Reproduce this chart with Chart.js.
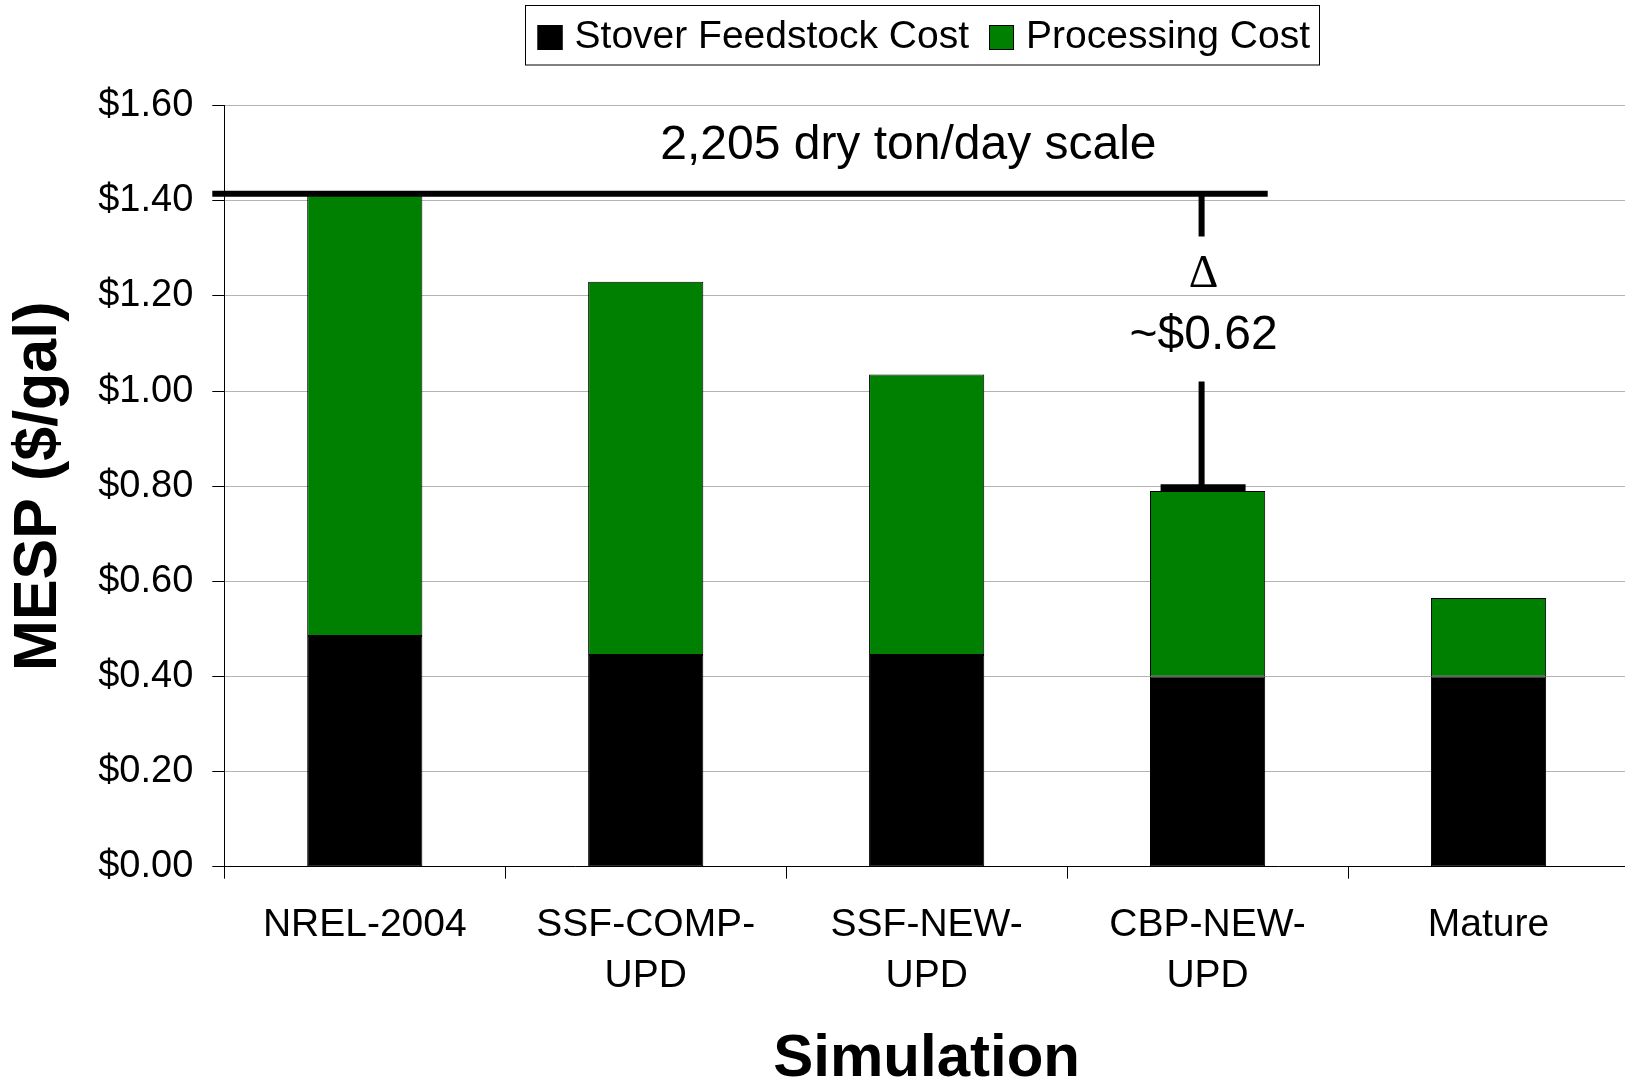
<!DOCTYPE html>
<html><head><meta charset="utf-8">
<script src="https://cdn.jsdelivr.net/npm/chart.js@4.4.1/dist/chart.umd.min.js"></script>
<style>html,body{margin:0;padding:0;overflow:hidden;background:#fff}canvas{display:block}</style>
</head><body>
<canvas id="c" width="1640" height="1089"></canvas>
<script>
// ---- data ----
const categories = ["NREL-2004", ["SSF-COMP-", "UPD"], ["SSF-NEW-", "UPD"], ["CBP-NEW-", "UPD"], "Mature"];
const feedstockCost = [0.485, 0.445, 0.445, 0.40, 0.40];
const processingCost = [0.93, 0.785, 0.59, 0.39, 0.165];
const seriesNames = ["Stover Feedstock Cost", "Processing Cost"];
const seriesColors = ["#000000", "#008000"];
const yMin = 0, yMax = 1.6, yStep = 0.2;
const yTitle = "MESP ($/gal)";
const xTitle = "Simulation";
// annotation values
const scaleLabel = "2,205 dry ton/day scale";
const scaleLevel = 1.415;
const deltaSymbol = "\u0394";
const deltaLabel = "~$0.62";
const deltaTo = 0.797;
const deltaCategory = 3;

const SANS = '"Liberation Sans", Arial, sans-serif';
Chart.defaults.font.family = SANS;
Chart.defaults.color = '#000';

const bgPlugin = {
  id: 'bg',
  beforeDraw(chart) {
    const ctx = chart.ctx;
    ctx.save(); ctx.fillStyle = '#fff'; ctx.fillRect(0, 0, chart.width, chart.height); ctx.restore();
  }
};

const legendPlugin = {
  id: 'boxLegend',
  afterDraw(chart) {
    const ctx = chart.ctx;
    ctx.save();
    ctx.font = '39px ' + SANS;
    const sq = 25, gapText = 12, gapItem = 20, padL = 12.5, padR = 9;
    const items = chart.data.datasets.map(d => ({label: d.label, color: d.backgroundColor, w: ctx.measureText(d.label).width}));
    let total = padL + padR + gapItem * (items.length - 1);
    items.forEach(it => total += sq + gapText + it.w);
    const left = 922 - total / 2, top = 5, h = 59.5;
    ctx.strokeStyle = '#000'; ctx.lineWidth = 1;
    ctx.strokeRect(Math.round(left) + 0.5, top + 0.5, Math.round(total), h);
    let xx = left + padL;
    ctx.textBaseline = 'alphabetic'; ctx.textAlign = 'left';
    items.forEach(it => {
      ctx.fillStyle = it.color;
      ctx.fillRect(xx, 25, sq, sq);
      ctx.strokeStyle = '#000';
      ctx.strokeRect(xx + 0.5, 25.5, sq - 1, sq - 1);
      ctx.fillStyle = '#000';
      ctx.fillText(it.label, xx + sq + gapText, 47.5);
      xx += sq + gapText + it.w + gapItem;
    });
    ctx.restore();
  }
};

const annotationPlugin = {
  id: 'annot',
  afterDatasetsDraw(chart) {
    const {ctx, chartArea, scales: {x, y}} = chart;
    ctx.save();
    ctx.strokeStyle = '#000'; ctx.fillStyle = '#000'; ctx.lineCap = 'butt';
    const yl = y.getPixelForValue(scaleLevel);
    ctx.lineWidth = 6;
    ctx.beginPath();
    ctx.moveTo(chartArea.left - 12, yl);
    ctx.lineTo(x.getPixelForValue(deltaCategory + 0.214), yl);
    ctx.stroke();
    ctx.font = '48px ' + SANS;
    ctx.textAlign = 'center'; ctx.textBaseline = 'alphabetic';
    ctx.fillText(scaleLabel, x.getPixelForValue(1.935), y.getPixelForValue(1.488));
    // delta bracket
    const xc = x.getPixelForValue(deltaCategory) - 6;
    ctx.beginPath();
    ctx.moveTo(xc, yl); ctx.lineTo(xc, y.getPixelForValue(1.325));
    ctx.moveTo(xc, y.getPixelForValue(1.02)); ctx.lineTo(xc, y.getPixelForValue(deltaTo));
    ctx.stroke();
    ctx.lineWidth = 7;
    ctx.beginPath();
    ctx.moveTo(xc - 41, y.getPixelForValue(deltaTo));
    ctx.lineTo(xc + 44, y.getPixelForValue(deltaTo));
    ctx.stroke();
    ctx.font = '46px "Liberation Serif", "Times New Roman", serif';
    ctx.fillText(deltaSymbol, xc + 2, y.getPixelForValue(1.219));
    ctx.font = '48px ' + SANS;
    ctx.fillText(deltaLabel, xc + 2, y.getPixelForValue(1.088));
    ctx.restore();
  }
};

new Chart(document.getElementById('c'), {
  type: 'bar',
  data: {
    labels: categories,
    datasets: [
      {label: seriesNames[0], data: feedstockCost, backgroundColor: seriesColors[0], borderColor: '#000', borderWidth: 1, borderSkipped: false},
      {label: seriesNames[1], data: processingCost, backgroundColor: seriesColors[1], borderColor: '#000', borderWidth: 1, borderSkipped: false}
    ]
  },
  options: {
    responsive: false,
    animation: false,
    devicePixelRatio: 1,
    layout: {padding: {top: 105.7, left: 0, right: 11, bottom: 0}},
    datasets: {bar: {categoryPercentage: 1, barPercentage: 0.41}},
    plugins: {legend: {display: false}, tooltip: {enabled: false}, title: {display: false}},
    scales: {
      x: {
        stacked: true,
        grid: {display: true, drawOnChartArea: false, drawTicks: true, tickLength: 12, color: '#000', offset: true},
        border: {display: true, color: '#000', width: 1},
        ticks: {font: {size: 39, lineHeight: 1.30}, padding: 21.4, color: '#000', maxRotation: 0, autoSkip: false},
        title: {display: true, text: xTitle, font: {size: 60, weight: 'bold', lineHeight: 1}, padding: 0, color: '#000'},
        afterFit(s) { s.height = 222.3; }
      },
      y: {
        stacked: true,
        min: yMin, max: yMax,
        grid: {color: '#b4b4b4', lineWidth: 1, drawTicks: true, tickLength: 12, tickColor: '#000'},
        border: {display: true, color: '#000', width: 1},
        ticks: {stepSize: yStep, font: {size: 38}, padding: 19, color: '#000', callback: v => '$' + Number(v).toFixed(2)},
        title: {display: true, text: yTitle, font: {size: 61, weight: 'bold', lineHeight: 1}, padding: {top: 8.5, bottom: 0}, color: '#000'},
        afterFit(s) { s.width = 224.3; }
      }
    }
  },
  plugins: [bgPlugin, legendPlugin, annotationPlugin]
});
</script>
</body></html>
